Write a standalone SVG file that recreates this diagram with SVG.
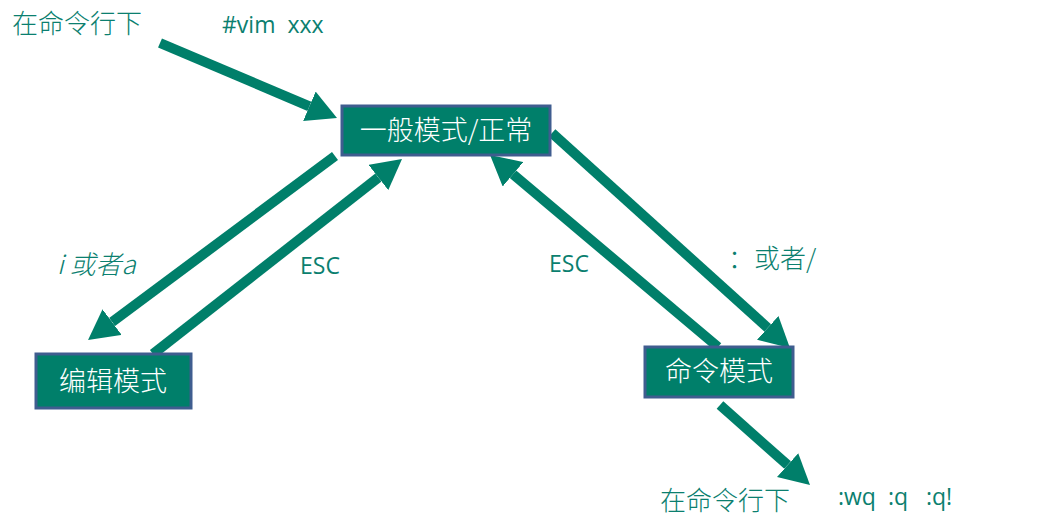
<svg xmlns="http://www.w3.org/2000/svg" width="1048" height="529" viewBox="0 0 1048 529">
<style>
.box{fill:#007f6a;stroke:#3f5d8f;stroke-width:3}
.bt{fill:#ffffff;font-family:"Noto Sans CJK SC",sans-serif;font-size:27px;font-weight:300}
.lbl{fill:#0b7f6f;font-family:"Noto Sans CJK SC",sans-serif;font-size:26px;font-weight:300}
.lat{fill:#0b7f6f;font-family:"Open Sans","Liberation Sans",sans-serif;font-size:23px}
.arr{stroke:#007f6a;stroke-width:10;fill:none;marker-end:url(#ah)}
</style>
<defs>
<marker id="ah" markerUnits="userSpaceOnUse" viewBox="0 -16 30 32" markerWidth="30" markerHeight="32" refX="0" refY="0" orient="auto">
<path d="M0,-16 L30,0 L0,16 z" fill="#007f6a"/>
</marker>
</defs>
<g id="connectors">
<line class="arr" x1="160" y1="43" x2="309.4" y2="106.3"/>
<line class="arr" x1="335" y1="156" x2="112.1" y2="322.1"/>
<line class="arr" x1="153" y1="354" x2="378.4" y2="177.5"/>
<line class="arr" x1="718" y1="347" x2="513" y2="174.3"/>
<line class="arr" x1="552" y1="133" x2="767.7" y2="327.9"/>
<line class="arr" x1="720" y1="405" x2="787.6" y2="465.1"/>
</g>
<g id="normal">
<rect class="box" x="342" y="106" width="208" height="49"/>
<text class="bt" x="446" y="140" text-anchor="middle">一般模式/正常</text>
</g>
<g id="edit">
<rect class="box" x="36" y="354" width="155" height="54"/>
<text class="bt" x="113" y="391" text-anchor="middle">编辑模式</text>
</g>
<g id="command">
<rect class="box" x="645" y="347" width="148" height="50"/>
<text class="bt" x="719" y="381" text-anchor="middle">命令模式</text>
</g>
<g id="labels">
<text class="lbl" x="12" y="33">在命令行下</text>
<text class="lat" x="222" y="33" xml:space="preserve">#vim  xxx</text>
<text class="lbl" x="57" y="274" font-style="italic">i 或者a</text>
<text class="lat" x="300" y="274">ESC</text>
<text class="lat" x="549" y="272">ESC</text>
<text class="lbl" x="728" y="268">：或者/</text>
<text class="lbl" x="660" y="510">在命令行下</text>
<text class="lat" x="838" y="505" xml:space="preserve">:wq  :q   :q!</text>
</g>
</svg>
